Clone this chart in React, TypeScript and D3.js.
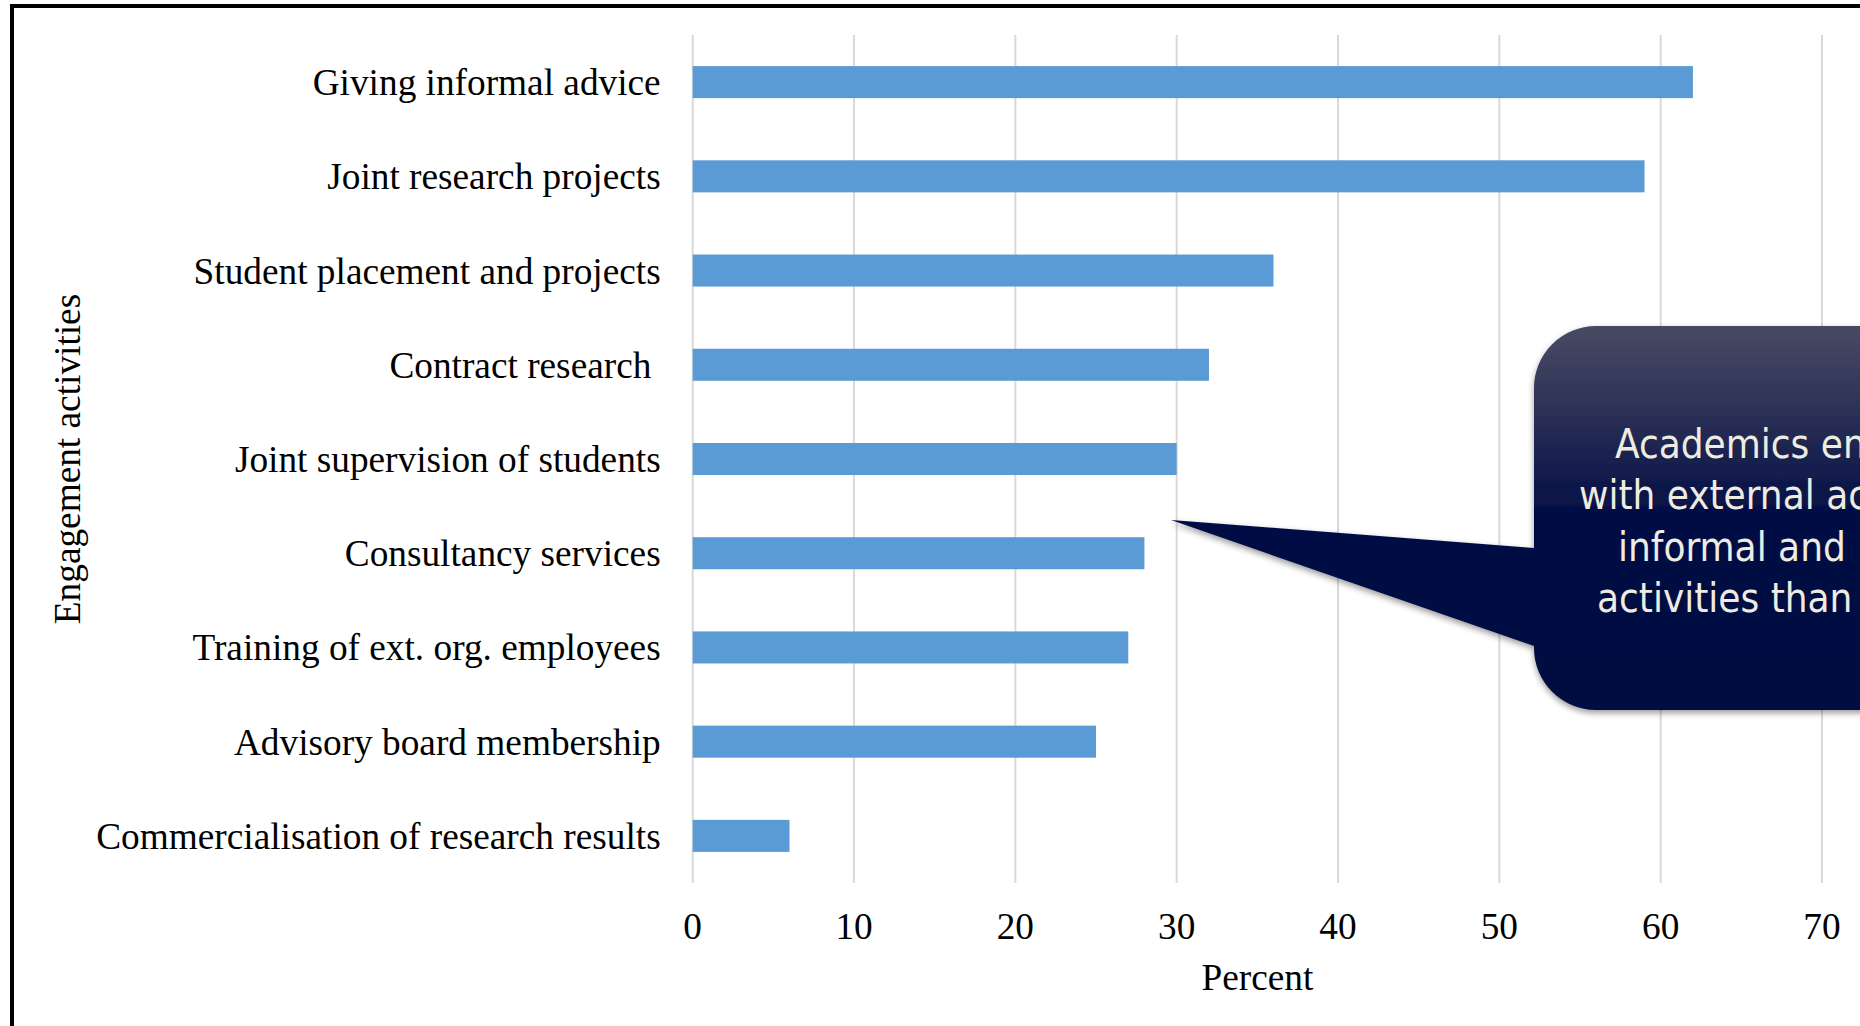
import React from "react";
import * as d3 from "d3";

const categories = [
  "Giving informal advice",
  "Joint research projects",
  "Student placement and projects",
  "Contract research ",
  "Joint supervision of students",
  "Consultancy services",
  "Training of ext. org. employees",
  "Advisory board membership",
  "Commercialisation of research results",
];
const values = [62, 59, 36, 32, 30, 28, 27, 25, 6];
const xTicks = [0, 10, 20, 30, 40, 50, 60, 70];
const xTitle = "Percent";
const yTitle = "Engagement activities";
const calloutLines = [
  "Academics engage more",
  "with external actors in",
  "informal and people-based",
  "activities than in commercialisation",
];
const calloutLineX = [1615, 1579, 1618, 1597];

const W = 1860;
const H = 1026;

export default function App() {
  const x = d3.scaleLinear().domain([0, 70]).range([692.7, 1822]);
  const y = d3
    .scaleBand<string>()
    .domain(categories)
    .range([35, 883])
    .paddingInner(0.66)
    .paddingOuter(0.33);

  const serif = "'Times New Roman', 'Liberation Serif', serif";
  const fs = 37.3;
  const bx = 1534;
  const top = 326;
  const bot = 710;
  const r = 62;
  const tip: [number, number] = [1171, 520];
  const calloutPath = `M ${bx + r} ${top} H 2400 V ${bot} H ${bx + r} A ${r} ${r} 0 0 1 ${bx} ${bot - r} V 646 L ${tip[0]} ${tip[1]} L ${bx} 548 V ${top + r} A ${r} ${r} 0 0 1 ${bx + r} ${top} Z`;

  return (
    <div style={{ position: "absolute", left: 0, top: 0, width: W, height: H, overflow: "hidden" }}>
      <svg width={W} height={H} style={{ display: "block", background: "#fff" }}>
        <defs>
          <linearGradient id="cg" gradientUnits="userSpaceOnUse" x1="0" y1={top} x2="0" y2={bot}>
            <stop offset="0" stopColor="#484a64" />
            <stop offset="0.2" stopColor="#2f3458" />
            <stop offset="0.5" stopColor="#020d44" />
            <stop offset="1" stopColor="#000a40" />
          </linearGradient>
          <filter id="sh" x="-10%" y="-10%" width="130%" height="130%">
            <feDropShadow dx="0" dy="3" stdDeviation="3" floodColor="#000" floodOpacity="0.4" />
          </filter>
        </defs>
        <rect x={12} y={6} width={W + 100} height={H + 100} fill="none" stroke="#000" strokeWidth={4} />
        {xTicks.map((t) => (
          <line key={t} x1={x(t)} x2={x(t)} y1={35} y2={883} stroke="#d9d9d9" strokeWidth={2} />
        ))}
        {categories.map((c, i) => (
          <rect
            key={c}
            x={x(0)}
            y={y(c)!}
            width={x(values[i]) - x(0)}
            height={y.bandwidth()}
            fill="#5b9bd5"
          />
        ))}
        {categories.map((c) => (
          <text
            key={c}
            x={x(0) - 32}
            y={y(c)! + y.bandwidth() / 2}
            dy="0.35em"
            textAnchor="end"
            fontFamily={serif}
            fontSize={fs}
            fill="#000"
            style={{ whiteSpace: "pre" }}
          >
            {c}
          </text>
        ))}
        {xTicks.map((t) => (
          <text key={t} x={x(t)} y={939} textAnchor="middle" fontFamily={serif} fontSize={fs} fill="#000">
            {t}
          </text>
        ))}
        <text x={(x(0) + x(70)) / 2} y={990} textAnchor="middle" fontFamily={serif} fontSize={fs} fill="#000">
          {xTitle}
        </text>
        <text
          transform={`translate(80, ${(35 + 883) / 2}) rotate(-90)`}
          textAnchor="middle"
          fontFamily={serif}
          fontSize={fs}
          fill="#000"
        >
          {yTitle}
        </text>
        <path d={calloutPath} fill="url(#cg)" filter="url(#sh)" />
        {calloutLines.map((l, i) => (
          <text
            key={i}
            x={calloutLineX[i]}
            y={458 + i * 51.3}
            fontFamily="'DejaVu Sans Condensed', Tahoma, 'DejaVu Sans', sans-serif"
            fontSize={40}
            fill="#eeece1"
          >
            {l}
          </text>
        ))}
      </svg>
    </div>
  );
}
